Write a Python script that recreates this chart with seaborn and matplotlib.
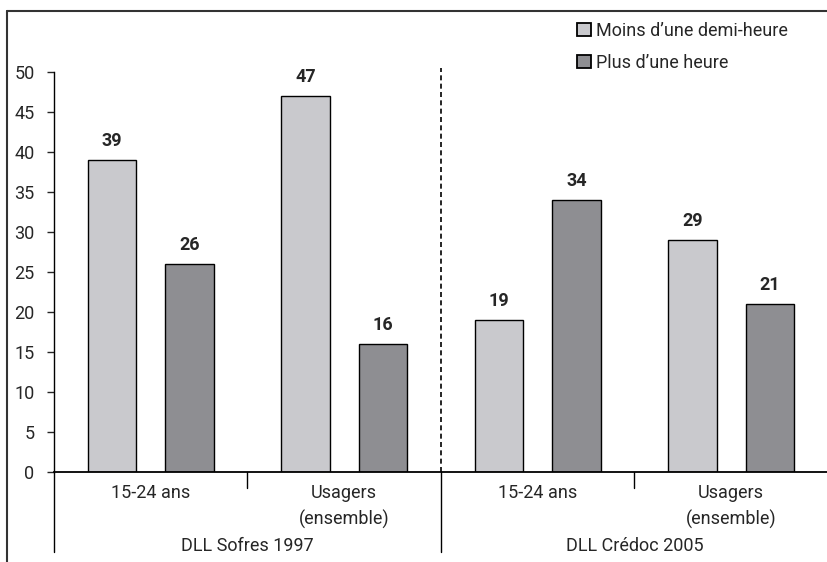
import pandas as pd
import numpy as np
import matplotlib
matplotlib.use("Agg")
import matplotlib.pyplot as plt
from matplotlib.lines import Line2D
import seaborn as sns

# ==================================================
# DATA
# ==================================================

categories = ["15-24 ans", "Usagers\n(ensemble)", "15-24 ans ", "Usagers\n(ensemble) "]
tick_labels = ["15-24 ans", "Usagers\n(ensemble)", "15-24 ans", "Usagers\n(ensemble)"]
surveys = ["DLL Sofres 1997", "DLL Crédoc 2005"]
series = ["Moins d\u2019une demi-heure", "Plus d\u2019une heure"]
moins_demi_heure = [39, 47, 19, 29]
plus_une_heure = [26, 16, 34, 21]

colors = ["#c9c9cd", "#8e8e92"]

df = pd.DataFrame({
    "categorie": categories * 2,
    "duree": [series[0]] * 4 + [series[1]] * 4,
    "pct": moins_demi_heure + plus_une_heure,
})

# ==================================================
# SETTINGS
# ==================================================

sns.set_style("white")
plt.rcParams["font.family"] = ["Roboto", "DejaVu Sans"]
plt.rcParams["font.size"] = 13

fig = plt.figure(figsize=(8.28, 5.62), dpi=100)
ax = fig.add_axes([54 / 828, 90 / 562, 1 - 54 / 828, 400 / 562])

sns.barplot(
    data=df,
    x="categorie",
    y="pct",
    hue="duree",
    palette=colors,
    order=categories,
    hue_order=series,
    width=0.8,
    gap=0.375,
    edgecolor="black",
    linewidth=1,
    saturation=1,
    ax=ax,
)

for cont in ax.containers:
    ax.bar_label(cont, fmt="%d", padding=7, fontweight="bold", fontsize=13)

ax.set_xlim(-0.5, 3.5)
ax.set_ylim(0, 50)
ax.set_yticks(np.arange(0, 51, 5))
ax.set_xlabel("")
ax.set_ylabel("")

for side in ["top", "right"]:
    ax.spines[side].set_visible(False)
ax.spines["left"].set_color("black")
ax.spines["bottom"].set_color("black")
ax.spines["left"].set_linewidth(1)
ax.spines["bottom"].set_linewidth(1.3)

ax.tick_params(axis="y", left=True, length=5, width=1, pad=9, labelsize=13)
ax.tick_params(axis="x", bottom=False, length=0, labelbottom=False)

# category labels and group separators
trans = ax.get_xaxis_transform()
for i, lab in enumerate(tick_labels):
    ax.text(i, -0.03, lab, transform=trans, ha="center", va="top",
            fontsize=13, linespacing=1.5)

for j, s in enumerate(surveys):
    ax.text(2 * j + 0.5, -0.163, s, transform=trans, ha="center", va="top", fontsize=13)

for x in [-0.5, 1.5]:
    ax.add_line(Line2D([x, x], [0, -0.2], transform=trans, color="black",
                       linewidth=1, clip_on=False))
for x in [0.5, 2.5]:
    ax.add_line(Line2D([x, x], [0, -0.04], transform=trans, color="black",
                       linewidth=1, clip_on=False))

ax.axvline(1.5, ymin=0, ymax=1.01, color="black", linestyle=(0, (3, 2)),
           linewidth=1.2, clip_on=False)

# legend
handles = [plt.Rectangle((0, 0), 1, 1, facecolor=c, edgecolor="black", linewidth=1.3)
           for c in colors]
ax.legend(
    handles, series,
    loc="upper left",
    bbox_to_anchor=(577 / 828, 1 - 22 / 562),
    bbox_transform=fig.transFigure,
    frameon=False,
    fontsize=13,
    handlelength=0.75,
    handleheight=0.75,
    handletextpad=0.3,
    labelspacing=0.75,
    borderaxespad=0,
    borderpad=0,
)

# outer frame
fig.add_artist(Line2D([7 / 828, 1], [1 - 11 / 562] * 2, transform=fig.transFigure,
                      color="#333333", linewidth=1.5))
fig.add_artist(Line2D([7 / 828] * 2, [0, 1 - 11 / 562], transform=fig.transFigure,
                      color="#333333", linewidth=1.5))

fig.savefig("out.png", dpi=100)
plt.close()
